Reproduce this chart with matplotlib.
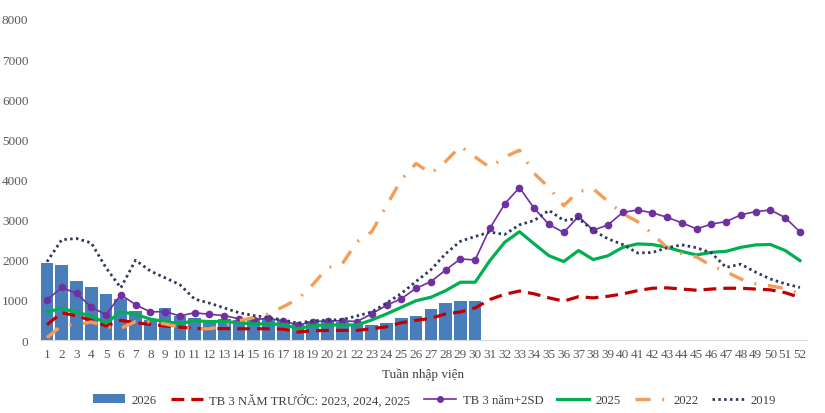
import matplotlib.pyplot as plt
from matplotlib.lines import Line2D
from matplotlib.patches import Patch

plt.rcParams["font.family"] = ["Liberation Serif", "DejaVu Serif"]

weeks = list(range(1, 53))

# 2026 (bars, weeks 1-30)
y2026 = [1920, 1880, 1460, 1320, 1150, 1010, 720, 500, 810, 610,
         540, 500, 520, 500, 540, 530, 500, 410, 480, 465,
         445, 400, 380, 425, 550, 590, 780, 910, 960, 970]

tb3 = [380, 680, 600, 490, 350, 490, 430, 390, 350, 320,
       290, 280, 285, 280, 280, 280, 270, 200, 230, 240,
       240, 240, 280, 330, 430, 490, 540, 650, 700, 800,
       1010, 1140, 1220, 1150, 1050, 970, 1080, 1050, 1090, 1150,
       1230, 1290, 1300, 1270, 1240, 1270, 1290, 1290, 1270, 1250,
       1180, 1060]

tb3_2sd = [1000, 1310, 1160, 820, 630, 1130, 880, 700, 710, 600,
           680, 640, 610, 530, 510, 540, 480, 370, 460, 475,
           480, 460, 655, 865, 1030, 1290, 1455, 1745, 2020, 1995,
           2785, 3390, 3800, 3280, 2880, 2680, 3080, 2735, 2870, 3180,
           3240, 3170, 3060, 2920, 2770, 2890, 2950, 3120, 3200, 3240,
           3050, 2695]

y2025 = [700, 790, 690, 600, 420, 700, 640, 520, 460, 410,
         480, 460, 460, 430, 400, 400, 390, 280, 360, 375,
         375, 375, 500, 650, 815, 980, 1065, 1230, 1440, 1440,
         1980, 2435, 2700, 2395, 2100, 1955, 2230, 2005, 2100, 2310,
         2395, 2380, 2310, 2205, 2120, 2185, 2210, 2310, 2370, 2380,
         2230, 1980]

y2022 = [60, 360, 380, 450, 330, 290, 460, 450, 400, 320,
         280, 280, 350, 480, 560, 650, 830, 1020, 1380, 1800,
         1900, 2450, 2700, 3350, 4000, 4400, 4150, 4450, 4830, 4560,
         4300, 4560, 4730, 4150, 3800, 3350, 3700, 3770, 3450, 3150,
         2950, 2650, 2300, 2150, 2070, 1850, 1700, 1520, 1400, 1350,
         1280, 1150]

y2019 = [1950, 2500, 2530, 2420, 1800, 1300, 1990, 1720, 1550, 1380,
         1020, 920, 800, 680, 610, 560, 500, 420, 480, 495,
         510, 600, 700, 920, 1160, 1460, 1750, 2150, 2460, 2580,
         2690, 2630, 2870, 2980, 3230, 2980, 3030, 2730, 2520, 2380,
         2170, 2180, 2300, 2370, 2300, 2170, 1810, 1890, 1690, 1520,
         1400, 1310]

c_bar = "#4a7ebb"
c_red = "#c00000"
c_purple = "#7030a0"
c_green = "#00b050"
c_orange = "#f59d56"
c_navy = "#2e3a5c"
c_text = "#595959"

ls_red = (0, (4, 2.2))
ls_orange = (0, (4.5, 3.5, 0.6, 3.5))
ls_navy = (0, (0.9, 1.2))

fig = plt.figure(figsize=(8.25, 4.14), dpi=100)
ax = fig.add_axes([0.048, 0.1763, 0.9306, 0.7754])

ax.bar(weeks[:len(y2026)], y2026, width=0.86, color=c_bar, zorder=1)
ax.plot(weeks, tb3, color=c_red, lw=2.3, linestyle=ls_red, zorder=2)
ax.plot(weeks, tb3_2sd, color=c_purple, lw=1.2, marker="o", markersize=4.5, zorder=3)
ax.plot(weeks, y2025, color=c_green, lw=2.3, zorder=4)
ax.plot(weeks, y2022, color=c_orange, lw=2.4, linestyle=ls_orange, zorder=5)
ax.plot(weeks, y2019, color=c_navy, lw=2.0, linestyle=ls_navy, zorder=6)

ax.set_xlim(0.5, 52.5)
ax.set_ylim(0, 8000)
ax.set_xticks(weeks)
ax.set_yticks(range(0, 8001, 1000))
ax.tick_params(length=0, labelsize=9.5, colors=c_text)
ax.tick_params(axis="x", pad=6)
ax.tick_params(axis="y", pad=8)
for s in ["top", "right", "left"]:
    ax.spines[s].set_visible(False)
ax.spines["bottom"].set_color("#d9d9d9")
ax.set_xlabel("Tuần nhập viện", fontsize=9.5, color="#404040", labelpad=5)

handles = [
    Patch(facecolor=c_bar),
    Line2D([], [], color=c_red, lw=2.3, linestyle=ls_red),
    Line2D([], [], color=c_purple, lw=1.2, marker="o", markersize=4),
    Line2D([], [], color=c_green, lw=2.3),
    Line2D([], [], color=c_orange, lw=2.4, linestyle=ls_orange),
    Line2D([], [], color=c_navy, lw=2.0, linestyle=ls_navy),
]
labels = ["2026", "TB 3 NĂM TRƯỚC: 2023, 2024, 2025", "TB 3 năm+2SD",
          "2025", "2022", "2019"]
fig.legend(handles, labels, loc="center", bbox_to_anchor=(0.527, 0.032),
           ncol=6, frameon=False, fontsize=9.2, handlelength=2.5,
           columnspacing=1.1, handletextpad=0.5, labelcolor="#404040")

fig.savefig("out.png", dpi=100)
